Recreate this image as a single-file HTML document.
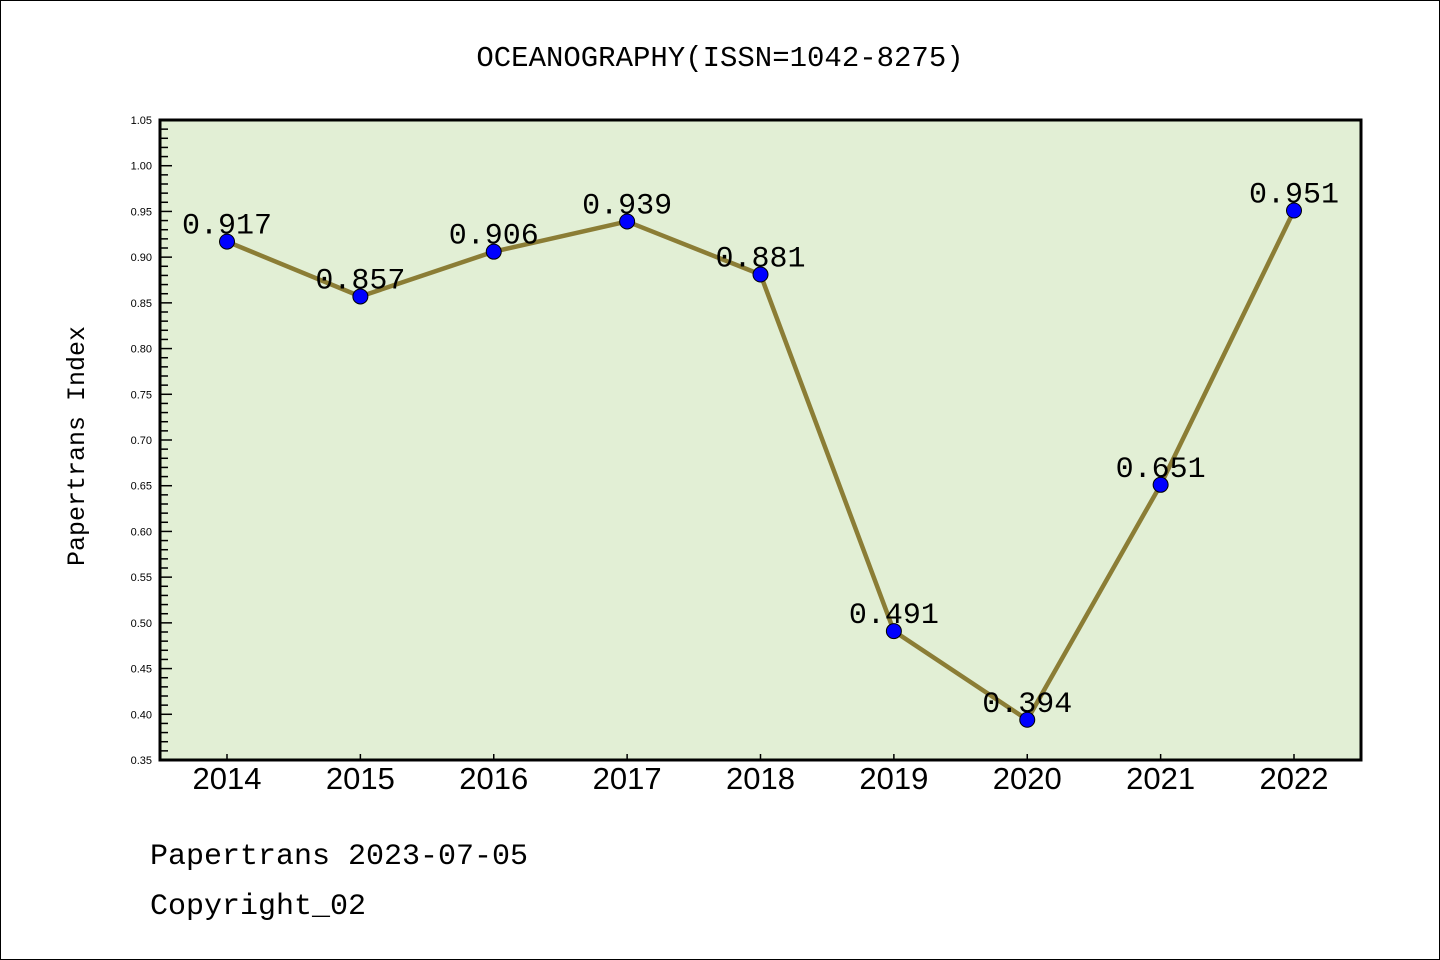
<!DOCTYPE html>
<html><head><meta charset="utf-8"><style>
body{margin:0;background:#fff}
svg{display:block;font-family:"Liberation Sans",sans-serif}
.m{font-family:"WenQuanYi Zen Hei Mono","Liberation Mono",monospace}
</style></head><body>
<svg id="chart" width="1440" height="960">
<rect x="0.5" y="0.5" width="1439" height="959" fill="#fff" stroke="#000"/>
<text class="m" x="720" y="66" text-anchor="middle" font-size="29">OCEANOGRAPHY(ISSN=1042-8275)</text>
<rect x="160" y="120" width="1201" height="640" fill="#e2efd5"/>
<g id="yaxis"></g><g id="xaxis"></g><g id="series"></g>
<rect x="160" y="120" width="1201" height="640" fill="none" stroke="#000" stroke-width="3"/>
<text class="m" transform="translate(84,446) rotate(-90)" text-anchor="middle" font-size="25">Papertrans Index</text>
<text class="m" x="150" y="864" font-size="30">Papertrans 2023-07-05</text>
<text class="m" x="150" y="914" font-size="30">Copyright_02</text>
</svg>
<script>
const years=["2014","2015","2016","2017","2018","2019","2020","2021","2022"];
const values=[0.917,0.857,0.906,0.939,0.881,0.491,0.394,0.651,0.951];
const labels=["0.917","0.857","0.906","0.939","0.881","0.491","0.394","0.651","0.951"];
const yTicks=[0.35,0.40,0.45,0.50,0.55,0.60,0.65,0.70,0.75,0.80,0.85,0.90,0.95,1.00,1.05];
const NS="http://www.w3.org/2000/svg";
const X0=160,X1=1361,Y0=760,Y1=120,yMin=0.35,yMax=1.05;
function ys(v){return Y0-(v-yMin)/(yMax-yMin)*(Y0-Y1);}
function xs(i){return 227+i*(1294-227)/(years.length-1);}
function mk(t,a,p){const e=document.createElementNS(NS,t);for(const k in a)e.setAttribute(k,a[k]);p.appendChild(e);return e;}
const ya=document.getElementById('yaxis'),xa=document.getElementById('xaxis'),sg=document.getElementById('series');
for(let k=0;k<=70;k++){const v=yMin+k*0.01;const y=ys(v);const major=k%5===0;
 const l=mk('line',{x1:X0,x2:X0+(major?12:8),y1:y,y2:y,stroke:'#000','stroke-width':1.5},ya);
 
 }
yTicks.forEach(v=>{const t=mk('text',{x:152,y:ys(v)+4,'text-anchor':'end','font-size':11},ya);t.textContent=v.toFixed(2);
 
 });
years.forEach((yr,i)=>{const l=mk('line',{x1:xs(i),x2:xs(i),y1:Y0,y2:Y0-6,stroke:'#000','stroke-width':1.5},xa);
 
 
 const t=mk('text',{x:xs(i),y:789,'text-anchor':'middle','font-size':31},xa);t.textContent=yr;
 
 });
const pl=mk('polyline',{points:values.map((v,i)=>xs(i)+','+ys(v)).join(' '),fill:'none',stroke:'#8b7d35','stroke-width':4.5},sg);


values.forEach((v,i)=>{const c=mk('circle',{cx:xs(i),cy:ys(v),r:7.5,fill:'#0000ff',stroke:'#000','stroke-width':1},sg);
 
 
 const t=mk('text',{x:xs(i),y:ys(v)-8,'text-anchor':'middle','font-size':30,'class':'m'},sg);t.textContent=labels[i];
 
 });
</script>
</body></html>
